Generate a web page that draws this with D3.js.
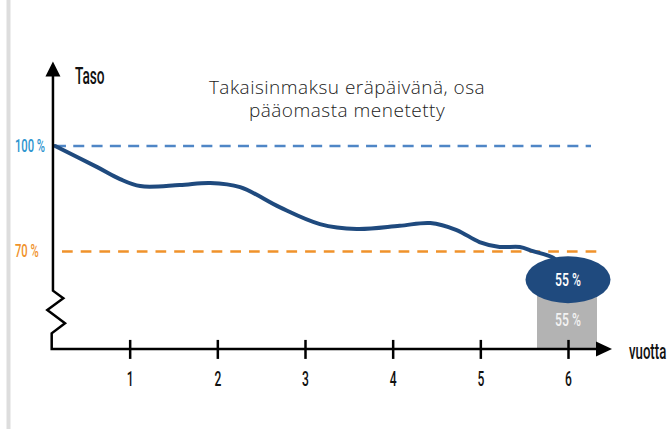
<!DOCTYPE html>
<html>
<head>
    <meta charset="utf-8">
    <script src="https://d3js.org/d3.v7.min.js"></script>
    <style>
        body { margin: 0; background: #fff; }
        .narrow { font-family: Roboto, "DejaVu Sans Condensed", sans-serif; font-weight: 500; }
        .title { font-family: "Open Sans", sans-serif; font-size: 19px; font-weight: 300; fill: #222; letter-spacing: 0.5px; }
    </style>
</head>
<body>
<script>
    // Data
    let years = [1, 2, 3, 4, 5, 6];
    let levelTicks = [100, 70];
    let levelLabels = ["100 %", "70 %"];
    let curveYears = [0.15, 0.63, 0.89, 1.12, 1.57, 1.92, 2.26, 2.71, 3.17, 3.59, 4.08, 4.43, 4.73, 4.99, 5.22, 5.45, 5.60, 5.83, 6.0];
    let curveLevels = [100, 94.0, 90.6, 88.6, 88.9, 89.5, 88.3, 82.6, 77.8, 76.4, 77.3, 78.1, 76.1, 72.7, 71.3, 71.3, 70.1, 68.2, 64.2];
    let finalLabel = "55 %";
    let titleLines = ["Takaisinmaksu eräpäivänä, osa", "pääomasta menetetty"];

    let width = 667, height = 429;

    let svg = d3.select("body").append("svg")
        .attr("width", width)
        .attr("height", height);

    // Scales
    let x = d3.scaleLinear().domain([0, 6]).range([42, 568]);
    let y = d3.scaleLinear().domain([70, 100]).range([251.5, 146]);

    let x0 = x(0.125);          // y axis position
    let yBottom = y(42.3);      // x axis position
    let yTop = y(124);          // y axis arrow tip

    // grey strip on the left edge
    svg.append("rect")
        .attr("x", 6.5).attr("y", 0)
        .attr("width", 4).attr("height", height)
        .attr("fill", "#dddddd");

    // narrow text helper (squeezed horizontally)
    function narrowText(parent, px, py, txt, size, fill, anchor, sx) {
        parent.append("g")
            .attr("transform", "translate(" + px + "," + py + ") scale(" + sx + ",1)")
            .append("text")
            .attr("class", "narrow")
            .attr("text-anchor", anchor)
            .attr("dominant-baseline", "central")
            .style("font-size", size + "px")
            .attr("fill", fill)
            .text(txt);
    }

    // Title (one text, two lines)
    svg.append("text")
        .attr("class", "title")
        .attr("text-anchor", "middle")
        .selectAll("tspan")
        .data(titleLines)
        .enter().append("tspan")
        .attr("x", 347)
        .attr("y", function(d, i) { return 94 + i * 22.5; })
        .text(function(d) { return d; });

    // Reference lines 100 % and 70 %
    svg.append("line")
        .attr("x1", x0 + 2).attr("x2", 591)
        .attr("y1", y(100)).attr("y2", y(100))
        .attr("stroke", "#4f86c6").attr("stroke-width", 2.7)
        .attr("stroke-dasharray", "11,7.3");

    svg.append("line")
        .attr("x1", 62).attr("x2", 597)
        .attr("y1", y(70)).attr("y2", y(70))
        .attr("stroke", "#f0922b").attr("stroke-width", 2.7)
        .attr("stroke-dasharray", "10.7,8");

    levelTicks.forEach(function(v, i) {
        narrowText(svg, 15, y(v), levelLabels[i], 17.5, i === 0 ? "#2e95cf" : "#f0922b", "start", 0.64);
    });

    // Grey bar for the final value
    let ellipseY = y(62);
    svg.append("rect")
        .attr("x", x(6) - 31).attr("y", ellipseY)
        .attr("width", 60).attr("height", yBottom - ellipseY)
        .attr("fill", "#b3b3b3");
    narrowText(svg, x(6), 319, finalLabel, 19, "#f2f2f2", "middle", 0.64);

    // Level curve
    let pts = curveYears.map(function(d, i) { return [d, curveLevels[i]]; });
    let line = d3.line()
        .x(function(d) { return x(d[0]); })
        .y(function(d) { return y(d[1]); })
        .curve(d3.curveCatmullRom.alpha(0.5));

    svg.append("path")
        .datum(pts)
        .attr("d", line)
        .attr("fill", "none")
        .attr("stroke", "#1f4a7e")
        .attr("stroke-width", 4)
        .attr("stroke-linecap", "round");

    // Ellipse at the end
    svg.append("ellipse")
        .attr("cx", x(6)).attr("cy", ellipseY)
        .attr("rx", 42.5).attr("ry", 23.5)
        .attr("fill", "#1f4a7e");
    narrowText(svg, x(6), ellipseY, finalLabel, 19, "#ffffff", "middle", 0.64);

    // Y axis with break
    let zig = [
        [x0, yTop + 12], [x0, 290.7], [63.3, 298.3], [47.3, 310],
        [65, 323.3], [51.7, 333.3], [51.7, yBottom], [598, yBottom]
    ];
    svg.append("path")
        .attr("d", d3.line()(zig))
        .attr("fill", "none")
        .attr("stroke", "#000")
        .attr("stroke-width", 2.5)
        .attr("stroke-linejoin", "miter");

    // arrow heads
    svg.append("path")
        .attr("d", "M" + x0 + "," + yTop + "L" + (x0 - 7.5) + "," + (yTop + 15) + "L" + (x0 + 7.5) + "," + (yTop + 15) + "Z")
        .attr("fill", "#000");
    svg.append("path")
        .attr("d", "M612," + yBottom + "L596," + (yBottom - 7.5) + "L596," + (yBottom + 7.5) + "Z")
        .attr("fill", "#000");

    // X axis ticks
    let xAxis = d3.axisBottom(x).tickValues(years).tickSize(10).tickFormat(d3.format("d"));
    let gx = svg.append("g")
        .attr("transform", "translate(0," + yBottom + ")")
        .call(xAxis);
    gx.select(".domain").remove();
    gx.selectAll(".tick line")
        .attr("y1", -9).attr("y2", 10)
        .attr("stroke", "#000").attr("stroke-width", 2.5);
    gx.selectAll(".tick text")
        .attr("class", "narrow")
        .attr("y", 30).attr("dy", null)
        .attr("dominant-baseline", "central")
        .attr("transform", "scale(0.62,1)")
        .style("font-size", "19.5px")
        .attr("fill", "#111");

    // Axis titles
    narrowText(svg, 75, 76, "Taso", 24, "#111", "start", 0.57);
    narrowText(svg, 629, 351, "vuotta", 22, "#111", "start", 0.6);
</script>
</body>
</html>
